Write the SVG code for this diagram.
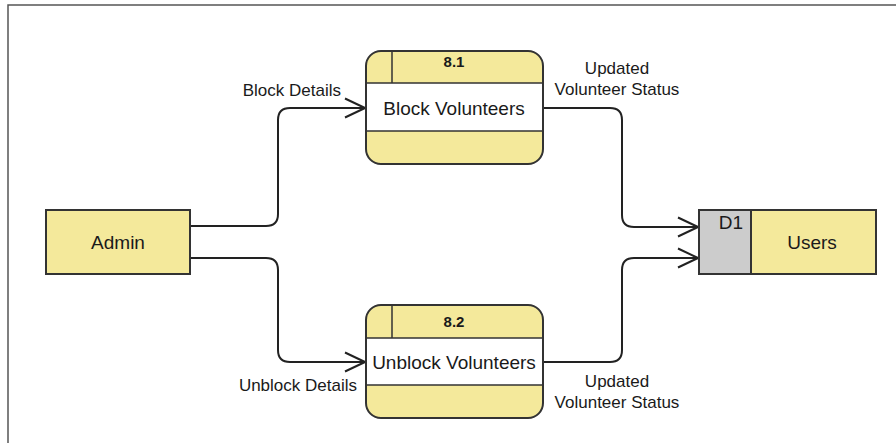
<svg xmlns="http://www.w3.org/2000/svg" width="896" height="443" viewBox="0 0 896 443">
<style>
.box{fill:#f4e99b;stroke:#333;stroke-width:2}
.line{fill:none;stroke:#333;stroke-width:1.5}
.conn{fill:none;stroke:#222;stroke-width:2}
.t{font-family:"Liberation Sans",Arial,sans-serif;fill:#1a1a1a}
.n{font-size:19px;text-anchor:middle}
.id{font-size:15px;font-weight:bold;text-anchor:middle}
.lbl{font-size:17px}
</style>
<defs>
<marker id="arr" markerUnits="userSpaceOnUse" markerWidth="24" markerHeight="24" viewBox="-22 -12 24 24" refX="0" refY="0" orient="auto">
<path d="M-20,-9.5 L0,0 L-20,9.5" fill="none" stroke="#222" stroke-width="2"/>
</marker>
</defs>
<rect width="896" height="443" fill="#fff"/>
<path d="M8,443 V5 H896" fill="none" stroke="#555" stroke-width="1.5"/>
<g id="connectors">
<path class="conn" d="M190,226 H266 Q278,226 278,214 V120 Q278,108 290,108 H365" marker-end="url(#arr)"/>
<path class="conn" d="M190,258 H266 Q278,258 278,270 V350 Q278,362 290,362 H365" marker-end="url(#arr)"/>
<path class="conn" d="M543,108 H610 Q622,108 622,120 V215 Q622,227 634,227 H698" marker-end="url(#arr)"/>
<path class="conn" d="M543,362 H610 Q622,362 622,350 V270 Q622,258 634,258 H698" marker-end="url(#arr)"/>
<text class="t lbl" x="341" y="96" text-anchor="end">Block Details</text>
<text class="t lbl" x="357" y="391" text-anchor="end">Unblock Details</text>
<text class="t lbl" x="617" y="74" text-anchor="middle">Updated</text>
<text class="t lbl" x="617" y="95" text-anchor="middle">Volunteer Status</text>
<text class="t lbl" x="617" y="387" text-anchor="middle">Updated</text>
<text class="t lbl" x="617" y="408" text-anchor="middle">Volunteer Status</text>
</g>
<g id="admin">
<rect class="box" x="46" y="210" width="144" height="64"/>
<text class="t n" x="118" y="249">Admin</text>
</g>
<g id="users">
<rect x="699" y="210" width="52" height="64" fill="#cccccc" stroke="#333" stroke-width="2"/>
<rect class="box" x="751" y="210" width="125" height="64"/>
<text class="t n" x="731" y="229">D1</text>
<text class="t n" x="812" y="249">Users</text>
</g>
<g id="p81">
<rect x="366" y="51" width="177" height="113" rx="15" fill="#f4e99b"/>
<rect x="366" y="83" width="177" height="48" fill="#fff"/>
<path class="line" d="M366,83 H543 M366,131 H543 M392,51 V83"/>
<rect x="366" y="51" width="177" height="113" rx="15" fill="none" stroke="#333" stroke-width="2"/>
<text class="t id" x="454" y="67">8.1</text>
<text class="t n" x="454" y="115">Block Volunteers</text>
</g>
<g id="p82">
<rect x="366" y="305" width="177" height="113" rx="15" fill="#f4e99b"/>
<rect x="366" y="338" width="177" height="47" fill="#fff"/>
<path class="line" d="M366,338 H543 M366,385 H543 M392,305 V338"/>
<rect x="366" y="305" width="177" height="113" rx="15" fill="none" stroke="#333" stroke-width="2"/>
<text class="t id" x="454" y="327">8.2</text>
<text class="t n" x="454" y="369">Unblock Volunteers</text>
</g>
</svg>
